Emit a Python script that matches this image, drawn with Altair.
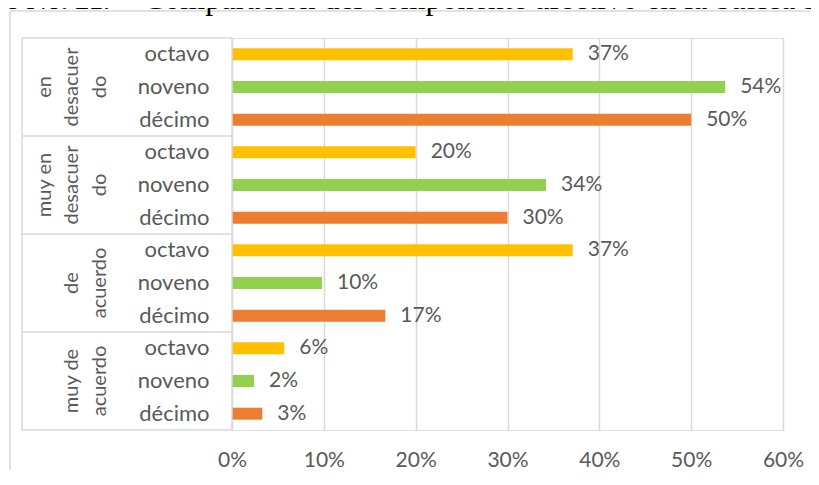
import altair as alt
import pandas as pd

# ---- data ----
groups = ["en desacuerdo", "muy en desacuerdo", "de acuerdo", "muy de acuerdo"]
group_lines = [["en", "desacuer", "do"], ["muy en", "desacuer", "do"], ["de", "acuerdo"], ["muy de", "acuerdo"]]
grades = ["octavo", "noveno", "décimo"]
grade_colors = ["#FFC000", "#92D050", "#ED7D31"]
values = [
    [0.371, 0.537, 0.500],
    [0.200, 0.342, 0.300],
    [0.371, 0.098, 0.167],
    [0.057, 0.024, 0.033],
]
x_ticks = [0, 0.1, 0.2, 0.3, 0.4, 0.5, 0.6]
title_bold = "Gráfico No. 21."
title_text = "Comparación del componente afectivo en la básica superior"

FONT = "Lato"
TXT = "#595959"
GRID = "#d9d9d9"
W, H = 551, 392

rows = []
for gi, g in enumerate(groups):
    for ki, k in enumerate(grades):
        rows.append({"row": f"{g}|{k}", "group": g, "grade": k, "value": values[gi][ki]})
df = pd.DataFrame(rows)
order = list(df["row"])

# pad every group label to 3 lines so the last line always sits on the same column
max_lines = max(len(l) for l in group_lines)
glab = pd.DataFrame({
    "row": [f"{g}|{grades[1]}" for g in groups],
    "label": ["\n".join(["\u00a0"] * (max_lines - len(l)) + l) for l in group_lines],
})
sep_top = pd.DataFrame({"row": [f"{g}|{grades[0]}" for g in groups]})
sep_bot = pd.DataFrame({"row": [order[-1]]})
one = pd.DataFrame({"k": [0]})

yscale = alt.Scale(domain=order, paddingInner=0, paddingOuter=0)
Y = alt.Y("row:N", scale=yscale, axis=None)
X = alt.X("value:Q", scale=alt.Scale(domain=[0, 0.6], nice=False),
          axis=alt.Axis(values=x_ticks, format=".0%", grid=True, gridColor=GRID, gridWidth=1.5,
                        domain=False, ticks=False, labelFont=FONT, labelFontSize=21,
                        labelFlush=False, labelColor=TXT, labelPadding=19, title=None))

bars = alt.Chart(df).mark_bar(size=12).encode(
    x=X, y=Y,
    color=alt.Color("grade:N", scale=alt.Scale(domain=grades, range=grade_colors), legend=None),
)
bar_text = alt.Chart(df).mark_text(align="left", baseline="middle", dx=15, font=FONT,
                                   fontSize=21, color=TXT).encode(
    x="value:Q", y=Y, text=alt.Text("value:Q", format=".0%"))

grade_text = alt.Chart(df).mark_text(align="right", baseline="middle", font=FONT,
                                     fontSize=22, color=TXT).encode(
    x=alt.value(-22.5), y=Y, text="grade:N")

group_text = alt.Chart(glab).mark_text(angle=270, align="center", baseline="alphabetic",
                                       lineBreak="\n", lineHeight=27.5, font=FONT,
                                       fontSize=20, color=TXT).encode(
    x=alt.value(-181.5), y=Y, text="label:N")

sep1 = alt.Chart(sep_top).mark_rule(color=GRID, strokeWidth=1.5).encode(
    x=alt.value(-210), x2=alt.value(0),
    y=alt.Y("row:N", scale=yscale, axis=None, bandPosition=0))
sep2 = alt.Chart(sep_bot).mark_rule(color=GRID, strokeWidth=1.5).encode(
    x=alt.value(-210), x2=alt.value(0),
    y=alt.Y("row:N", scale=yscale, axis=None, bandPosition=1))

box_left = alt.Chart(one).mark_rule(color=GRID, strokeWidth=1.5).encode(
    x=alt.value(-210), y=alt.value(0), y2=alt.value(H))
axis_line = alt.Chart(one).mark_rule(color=GRID, strokeWidth=1.5).encode(
    x=alt.value(0), y=alt.value(0), y2=alt.value(H))

outer_left = alt.Chart(one).mark_rule(color=GRID, strokeWidth=1.5).encode(
    x=alt.value(-222), y=alt.value(-27), y2=alt.value(H + 80))
outer_top = alt.Chart(one).mark_rule(color=GRID, strokeWidth=1.5).encode(
    x=alt.value(-222), x2=alt.value(W + 80), y=alt.value(-27))

t_bold = alt.Chart(one).mark_text(align="right", baseline="alphabetic", font="Liberation Serif",
                                  fontSize=28, fontWeight="bold", color="#000000").encode(
    x=alt.value(-122), y=alt.value(-29), text=alt.value(title_bold))
t_reg = alt.Chart(one).mark_text(align="left", baseline="alphabetic", font="Liberation Serif",
                                 fontSize=32, color="#000000").encode(
    x=alt.value(-89), y=alt.value(-29), text=alt.value(title_text))

chart = alt.layer(
    outer_left, outer_top, t_bold, t_reg,
    bars, bar_text, grade_text, group_text, sep1, sep2, box_left, axis_line,
).properties(
    width=W, height=H,
    autosize=alt.AutoSizeParams(type="none"),
    padding={"left": 224, "top": 30, "right": 28, "bottom": 40},
).configure_view(stroke=None).configure(background="#ffffff")

chart.save("out.html", embed_options={"renderer": "svg", "actions": False})
